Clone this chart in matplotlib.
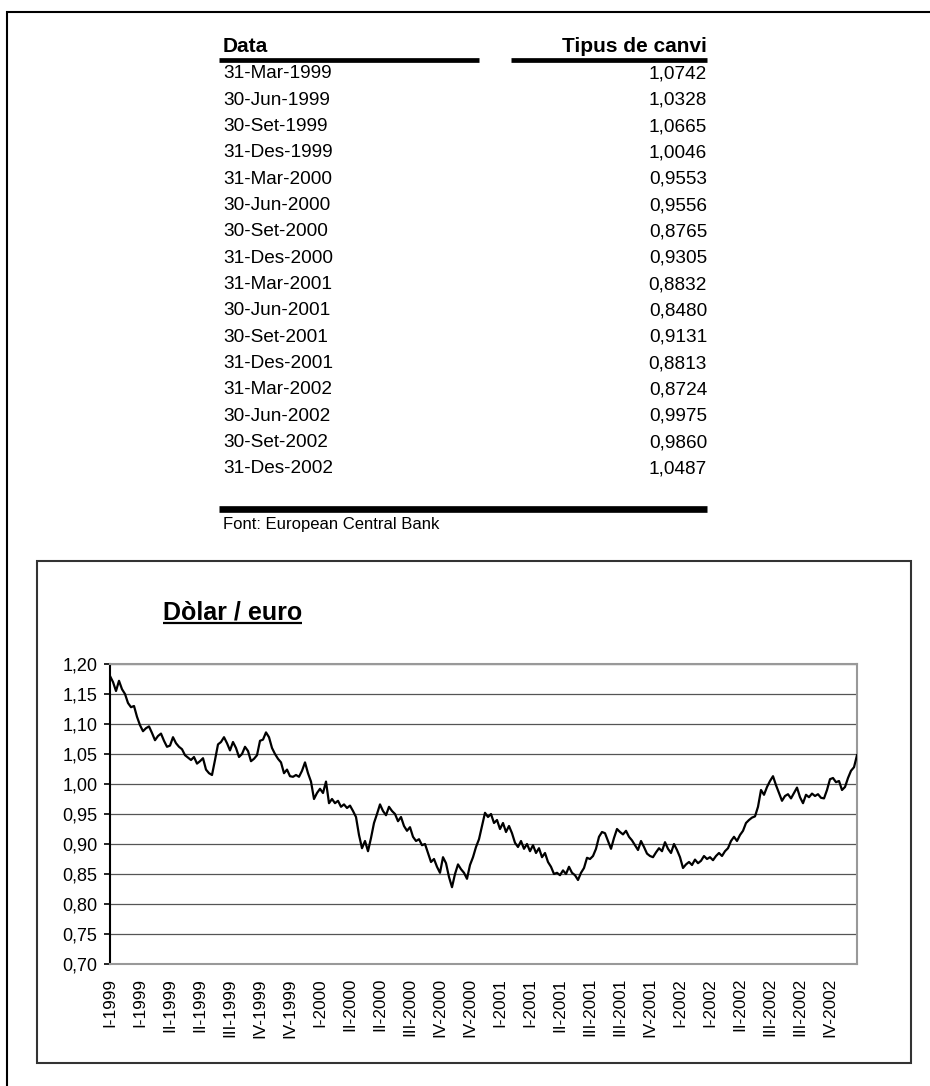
import matplotlib
matplotlib.use("Agg")
import matplotlib.pyplot as plt
from matplotlib.lines import Line2D
from matplotlib.patches import Rectangle
import numpy as np

plt.rcParams['font.family'] = ['Liberation Sans', 'DejaVu Sans']

# ---------------- data ----------------
table_dates = ["31-Mar-1999", "30-Jun-1999", "30-Set-1999", "31-Des-1999",
               "31-Mar-2000", "30-Jun-2000", "30-Set-2000", "31-Des-2000",
               "31-Mar-2001", "30-Jun-2001", "30-Set-2001", "31-Des-2001",
               "31-Mar-2002", "30-Jun-2002", "30-Set-2002", "31-Des-2002"]
table_rates = [1.0742, 1.0328, 1.0665, 1.0046, 0.9553, 0.9556, 0.8765, 0.9305,
               0.8832, 0.8480, 0.9131, 0.8813, 0.8724, 0.9975, 0.9860, 1.0487]

usd_eur = [
    1.180, 1.170, 1.155, 1.172, 1.158, 1.150, 1.135, 1.128, 1.130, 1.112,
    1.098, 1.088, 1.093, 1.096, 1.085, 1.073, 1.080, 1.084, 1.072, 1.062,
    1.064, 1.078, 1.068, 1.062, 1.058, 1.048, 1.044, 1.040, 1.045, 1.034,
    1.038, 1.043, 1.024, 1.018, 1.015, 1.040, 1.066, 1.070, 1.078, 1.068,
    1.056, 1.070, 1.060, 1.045, 1.050, 1.062, 1.055, 1.038, 1.042, 1.048,
    1.072, 1.074, 1.086, 1.078, 1.060, 1.050, 1.042, 1.036, 1.018, 1.024,
    1.013, 1.012, 1.015, 1.012, 1.022, 1.036, 1.018, 1.004, 0.975, 0.985,
    0.992, 0.985, 1.004, 0.968, 0.975, 0.968, 0.972, 0.962, 0.966, 0.960,
    0.964, 0.955, 0.945, 0.915, 0.893, 0.905, 0.888, 0.910, 0.935, 0.950,
    0.966, 0.955, 0.948, 0.962, 0.955, 0.950, 0.938, 0.945, 0.930, 0.922,
    0.928, 0.912, 0.905, 0.908, 0.898, 0.900, 0.885, 0.870, 0.875, 0.862,
    0.852, 0.878, 0.868, 0.845, 0.828, 0.850, 0.866, 0.858, 0.852, 0.842,
    0.865, 0.878, 0.895, 0.908, 0.930, 0.952, 0.945, 0.950, 0.935, 0.940,
    0.925, 0.935, 0.920, 0.930, 0.918, 0.902, 0.895, 0.905, 0.892, 0.900,
    0.888, 0.898, 0.885, 0.893, 0.878, 0.885, 0.870, 0.862, 0.850, 0.852,
    0.848, 0.856, 0.850, 0.862, 0.852, 0.848, 0.840, 0.852, 0.860, 0.877,
    0.875, 0.880, 0.892, 0.912, 0.920, 0.918, 0.905, 0.892, 0.910, 0.925,
    0.920, 0.916, 0.922, 0.912, 0.906, 0.898, 0.890, 0.905, 0.895, 0.884,
    0.880, 0.878, 0.886, 0.893, 0.888, 0.903, 0.892, 0.885, 0.900, 0.890,
    0.878, 0.860, 0.866, 0.870, 0.865, 0.874, 0.868, 0.872, 0.880, 0.875,
    0.878, 0.873, 0.880, 0.885, 0.880, 0.888, 0.893, 0.905, 0.912, 0.905,
    0.915, 0.922, 0.935, 0.940, 0.944, 0.946, 0.962, 0.990, 0.982, 0.995,
    1.005, 1.013, 0.998, 0.985, 0.972, 0.980, 0.983, 0.976, 0.985, 0.994,
    0.978, 0.968, 0.982, 0.978, 0.984, 0.980, 0.983, 0.977, 0.976, 0.990,
    1.008, 1.010, 1.003, 1.005, 0.990, 0.995, 1.010, 1.022, 1.028, 1.048,
]

x_labels = ["I-1999", "I-1999", "II-1999", "II-1999", "III-1999", "IV-1999",
            "IV-1999", "I-2000", "II-2000", "II-2000", "III-2000", "IV-2000",
            "IV-2000", "I-2001", "I-2001", "II-2001", "III-2001", "III-2001",
            "IV-2001", "I-2002", "I-2002", "II-2002", "III-2002", "III-2002",
            "IV-2002"]
label_step = 10
y_ticks = [0.70, 0.75, 0.80, 0.85, 0.90, 0.95, 1.00, 1.05, 1.10, 1.15, 1.20]

# ---------------- figure ----------------
W, H = 930, 1086
fig = plt.figure(figsize=(W / 100, H / 100), dpi=100)
fig.patch.set_facecolor('white')

def fx(px):
    return px / W

def fy(py):
    return 1 - py / H

def hline(x0, x1, y, lw, color='black'):
    fig.add_artist(Line2D([fx(x0), fx(x1)], [fy(y), fy(y)], lw=lw, color=color,
                          solid_capstyle='butt', transform=fig.transFigure))

def vline(x, y0, y1, lw, color='black'):
    fig.add_artist(Line2D([fx(x), fx(x)], [fy(y0), fy(y1)], lw=lw, color=color,
                          solid_capstyle='butt', transform=fig.transFigure))

# page border (left and top)
hline(6, 930, 12, 1.5)
vline(7, 11, 1086, 1.5)

# ---------------- table ----------------
fig.text(fx(223), fy(46), "Data", fontsize=15, fontweight='bold', va='center', ha='left')
fig.text(fx(707), fy(46), "Tipus de canvi", fontsize=15, fontweight='bold', va='center', ha='right')
hline(219, 479, 59.5, 3.4)
hline(511, 707, 59.5, 3.4)

row_y0 = 74
row_dy = 26.33
for k, (d, r) in enumerate(zip(table_dates, table_rates)):
    yy = row_y0 + k * row_dy
    fig.text(fx(223), fy(yy), d, fontsize=13.7, va='center', ha='left')
    fig.text(fx(707), fy(yy), f"{r:.4f}".replace('.', ','), fontsize=13.7,
             va='center', ha='right')

hline(219, 707, 509, 4.8)
fig.text(fx(223), fy(525), "Font: European Central Bank", fontsize=12, va='center', ha='left')

# ---------------- chart box ----------------
fig.add_artist(Rectangle((fx(37), fy(1063)), fx(911) - fx(37), fy(561) - fy(1063),
                         transform=fig.transFigure, fill=False,
                         edgecolor='#333333', lw=1.5))

title = fig.text(fx(163), fy(619), "Dòlar / euro", fontsize=18, fontweight='bold',
                 va='baseline', ha='left')
fig.canvas.draw()
bb = title.get_window_extent(renderer=fig.canvas.get_renderer())
hline(bb.x0, bb.x1, 623, 1.6)

# ---------------- plot ----------------
ax = fig.add_axes([fx(110), fy(964), fx(857) - fx(110), fy(664) - fy(964)])
xs = np.arange(len(usd_eur))
ax.plot(xs, usd_eur, color='black', lw=1.6, zorder=3)

ax.set_xlim(0, len(usd_eur) - 1)
ax.set_ylim(0.70, 1.20)
ax.set_yticks(y_ticks)
ax.set_yticklabels([f"{v:.2f}".replace('.', ',') for v in y_ticks], fontsize=13)
ax.set_xticks(xs[::label_step][:len(x_labels)])
ax.set_xticklabels(x_labels, rotation=90, fontsize=12.4, va='top', ha='center')

ax.tick_params(axis='y', direction='out', length=4, width=1.2, color='black', pad=5)
ax.tick_params(axis='x', length=0, pad=10)

ax.grid(axis='y', color='#555555', lw=0.9)
ax.set_axisbelow(True)
for s in ['top', 'right', 'bottom']:
    ax.spines[s].set_color('#999999')
    ax.spines[s].set_linewidth(1.5)
ax.spines['left'].set_color('black')
ax.spines['left'].set_linewidth(1.5)

fig.savefig("out.png", dpi=100)
